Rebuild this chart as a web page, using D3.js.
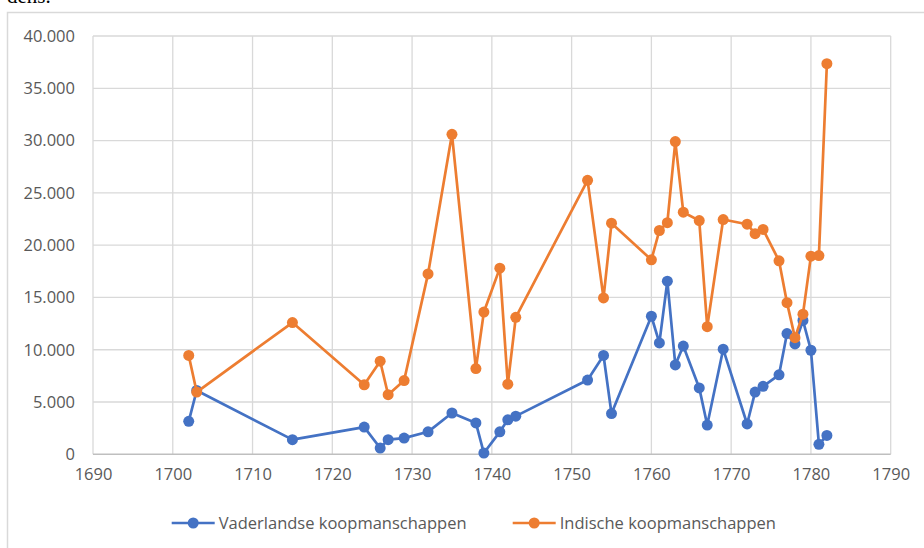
<!DOCTYPE html>
<html><head><meta charset="utf-8">
<script src="https://cdn.jsdelivr.net/npm/d3@7"></script>
<style>html,body{margin:0;padding:0;background:#fff;overflow:hidden}</style>
</head><body>
<svg id="c" width="924" height="548"></svg>
<script>
const years = [1702,1703,1715,1724,1726,1727,1729,1732,1735,1738,1739,1741,1742,1743,1752,1754,1755,1760,1761,1762,1763,1764,1766,1767,1769,1772,1773,1774,1776,1777,1778,1779,1780,1781,1782];
const vaderlandse = [3150,6100,1400,2600,600,1400,1550,2150,3950,3000,120,2150,3300,3650,7100,9450,3900,13200,10650,16550,8550,10350,6350,2800,10050,2900,5950,6500,7600,11550,10550,12800,9950,950,1800];
const indische = [9450,5950,12600,6650,8900,5700,7050,17250,30600,8200,13600,17800,6700,13100,26200,14950,22100,18600,21400,22150,29900,23150,22350,12200,22450,22000,21100,21500,18500,14500,11150,13400,18950,19000,37350];
const seriesNames = ["Vaderlandse koopmanschappen","Indische koopmanschappen"];
const yTicks = [0,5000,10000,15000,20000,25000,30000,35000,40000];
const xTicks = [1690,1700,1710,1720,1730,1740,1750,1760,1770,1780,1790];
const colors = ["#4472C4","#ED7D31"];

const svg = d3.select("#c");
const font = "'Open Sans', sans-serif";
// caption fragment above (cut off at the top, as in the source)
svg.append("text").attr("x",7).attr("y",3).attr("font-family","'Liberation Serif', serif")
  .attr("font-size",21).attr("fill","#000").text("dens.");
// chart frame
svg.append("rect").attr("x",7.5).attr("y",12.5).attr("width",940).attr("height",560)
  .attr("fill","#fff").attr("stroke","#d9d9d9").attr("stroke-width",1.5);

const x = d3.scaleLinear().domain([1690,1790]).range([93,890.7]);
const y = d3.scaleLinear().domain([0,40000]).range([454.3,36]);
const fmt = v => d3.format(",")(v).replace(/,/g,".");

// gridlines
const g = svg.append("g");
g.selectAll(".hg").data(yTicks.slice(1)).join("line")
  .attr("x1",x(1690)).attr("x2",x(1790)).attr("y1",d=>y(d)).attr("y2",d=>y(d))
  .attr("stroke","#d9d9d9").attr("stroke-width",1.3);
g.selectAll(".vg").data(xTicks).join("line")
  .attr("x1",d=>x(d)).attr("x2",d=>x(d)).attr("y1",y(0)).attr("y2",y(40000))
  .attr("stroke","#d9d9d9").attr("stroke-width",1.3);
g.append("line").attr("x1",x(1690)).attr("x2",x(1790)).attr("y1",y(0)).attr("y2",y(0))
  .attr("stroke","#bfbfbf").attr("stroke-width",1.5);

// axes via d3 axis generators
const yAxis = d3.axisLeft(y).tickValues(yTicks).tickFormat(fmt).tickSize(0).tickPadding(18);
const ya = svg.append("g").attr("transform",`translate(${x(1690)},0)`).call(yAxis);
ya.select(".domain").remove();
ya.selectAll("text").attr("font-family",font).attr("font-size",16.5).attr("fill","#595959");

const xAxis = d3.axisBottom(x).tickValues(xTicks).tickFormat(d3.format("d")).tickSize(0).tickPadding(14);
const xa = svg.append("g").attr("transform",`translate(0,${y(0)})`).call(xAxis);
xa.select(".domain").remove();
xa.selectAll("text").attr("font-family",font).attr("font-size",16.5).attr("fill","#595959");

// series
[vaderlandse, indische].forEach((vals,i)=>{
  const data = years.map((yr,k)=>({yr, v: vals[k]}));
  const line = d3.line().x(d=>x(d.yr)).y(d=>y(d.v));
  const sg = svg.append("g");
  sg.append("path").datum(data).attr("d",line).attr("fill","none")
    .attr("stroke",colors[i]).attr("stroke-width",2.7).attr("stroke-linejoin","round");
  sg.selectAll("circle").data(data).join("circle")
    .attr("cx",d=>x(d.yr)).attr("cy",d=>y(d.v)).attr("r",5.5).attr("fill",colors[i]);
});

// legend
const legendX = [171.7, 512.7];
seriesNames.forEach((name,i)=>{
  const lg = svg.append("g").attr("transform",`translate(${legendX[i]},523)`);
  lg.append("line").attr("x1",0).attr("x2",43).attr("y1",0).attr("y2",0)
    .attr("stroke",colors[i]).attr("stroke-width",2.7);
  lg.append("circle").attr("cx",21.5).attr("cy",0).attr("r",5.5).attr("fill",colors[i]);
  lg.append("text").attr("x",47).attr("y",0).attr("dy","0.35em")
    .attr("font-family",font).attr("font-size",16.5).attr("fill","#595959").text(name);
});
</script>
</body></html>
